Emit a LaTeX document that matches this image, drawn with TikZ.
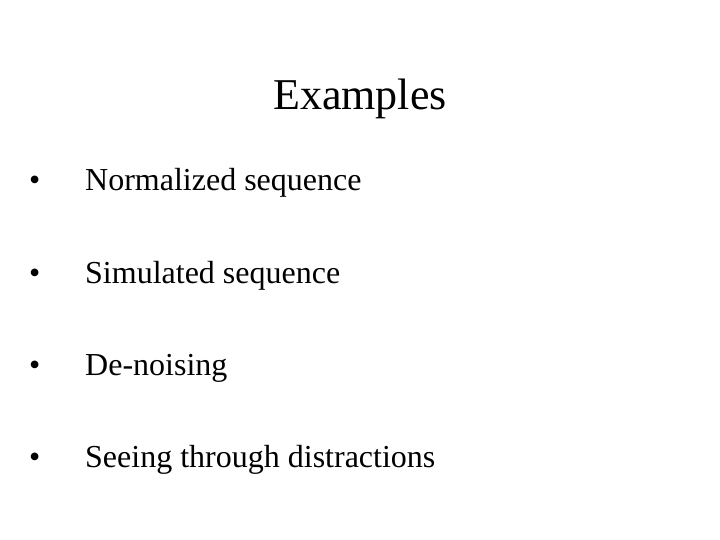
\documentclass[tikz,border=0pt]{standalone}
\usepackage{fontspec}
\setmainfont{Liberation Serif}
\begin{document}
\begin{tikzpicture}[x=1pt,y=-1pt,
  item/.style={anchor=base west,inner sep=0pt,font=\fontsize{32}{36}\selectfont},
  bul/.style={anchor=base west,inner sep=0pt,font=\fontsize{32}{36}\selectfont}]
\useasboundingbox (0,0) rectangle (720,540);
\node[anchor=base,inner sep=0pt,font=\fontsize{44}{50}\selectfont] (title) at (360,110) {Examples};
\foreach \t/\y [count=\i] in {Normalized sequence/191,Simulated sequence/283,De-noising/375,Seeing through distractions/467}{
  \node[bul] (b\i) at (29,\y) {\textbullet};
  \node[item] (t\i) at (85,\y) {\t};
}
\end{tikzpicture}
\end{document}
